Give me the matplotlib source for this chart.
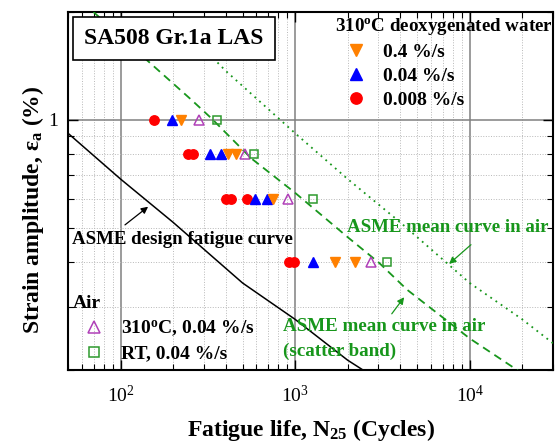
import numpy as np
import matplotlib
matplotlib.use('Agg')
import matplotlib.pyplot as plt
from matplotlib.ticker import LogLocator, NullFormatter
from matplotlib.patches import Rectangle

# ---------------- data ----------------
# ASME design fatigue curve (strain amplitude %)
design_N = [50, 100, 200, 500, 1000, 2000, 5000]
design_eps = [0.917, 0.683, 0.517, 0.350, 0.277, 0.213, 0.160]

# ASME mean curve in air (dotted)
mean_N = [200, 400, 1000, 2000, 4000, 10000, 20000, 40000]
mean_eps = [1.93, 1.37, 0.917, 0.683, 0.517, 0.350, 0.277, 0.213]

# ASME mean curve in air, scatter band (dashed)
band_N = [70, 141, 255, 331, 561, 1000, 2000, 3034, 4385, 10000, 18700, 30000]
band_eps = [2.0, 1.47, 1.136, 1.01, 0.78, 0.625, 0.47, 0.398, 0.335, 0.245, 0.200, 0.165]

# 310C deoxygenated water
w04_N = [223, 412, 456, 745, 1698, 2211]
w04_eps = [1.0, 0.8, 0.8, 0.6, 0.4, 0.4]
w004_N = [197, 324, 377, 591, 688, 1262]
w004_eps = [1.0, 0.8, 0.8, 0.6, 0.6, 0.4]
w0008_N = [156, 243, 260, 400, 431, 529, 918, 991]
w0008_eps = [1.0, 0.8, 0.8, 0.6, 0.6, 0.6, 0.4, 0.4]

# Air
air310_N = [281, 513, 907, 2717]
air310_eps = [1.0, 0.8, 0.6, 0.4]
airRT_N = [357, 585, 1273, 3357]
airRT_eps = [1.0, 0.8, 0.6, 0.4]

x_ticks = [1e2, 1e3, 1e4]
x_tick_labels = ['$10^{2}$', '$10^{3}$', '$10^{4}$']
y_ticks = [1]
y_tick_labels = ['1']

# ---------------- style ----------------
plt.rcParams.update({
    'font.family': ['Liberation Serif', 'DejaVu Serif'],
    'mathtext.fontset': 'custom',
    'mathtext.rm': 'Liberation Serif',
    'mathtext.bf': 'Liberation Serif:bold',
    'mathtext.it': 'Liberation Serif:italic',
})

GREEN = '#17961b'
ORANGE = '#ff8000'
BLUE = '#0000ff'
RED = '#ff0000'
PURPLE = '#b040b8'
SQGREEN = '#2e9a2e'

fig = plt.figure(figsize=(5.57, 4.43), dpi=100)
ax = fig.add_axes([68/557, 1-370/443, 485/557, 358/443])
ax.set_xscale('log')
ax.set_yscale('log')
ax.set_xlim(50, 30000)
ax.set_ylim(0.2, 2)

ax.set_axisbelow(True)
ax.grid(True, which='major', color='#808080', lw=1.1, ls='-')
ax.grid(True, which='minor', color='#b8b8b8', lw=0.7, ls=':')

# curves
ax.plot(design_N, design_eps, color='black', lw=1.1, zorder=3)
ax.plot(mean_N, mean_eps, color=GREEN, lw=1.3, ls=(0, (1, 2.5)), zorder=3)
ax.plot(band_N, band_eps, color=GREEN, lw=1.3, ls=(0, (4.5, 3)), zorder=3)

# data points
h_red, = ax.plot(w0008_N, w0008_eps, 'o', color=RED, ms=6.8, mec=RED, ls='none', zorder=4)
h_blue, = ax.plot(w004_N, w004_eps, '^', color=BLUE, ms=7.2, mec=BLUE, ls='none', zorder=4)
h_orange, = ax.plot(w04_N, w04_eps, 'v', color=ORANGE, ms=7.2, mec=ORANGE, ls='none', zorder=4)
h_p, = ax.plot(air310_N, air310_eps, '^', mfc='none', mec=PURPLE, mew=1.1, ms=7.5, ls='none', zorder=4)
h_s, = ax.plot(airRT_N, airRT_eps, 's', mfc='none', mec=SQGREEN, mew=1.1, ms=6, ls='none', zorder=4)

# ticks
ax.set_xticks(x_ticks)
ax.set_xticklabels(x_tick_labels)
ax.xaxis.set_minor_locator(LogLocator(base=10, subs=np.arange(2, 10)))
ax.xaxis.set_minor_formatter(NullFormatter())
ax.set_yticks(y_ticks)
ax.set_yticklabels(y_tick_labels)
ax.yaxis.set_minor_locator(LogLocator(base=10, subs=np.arange(2, 10)))
ax.yaxis.set_minor_formatter(NullFormatter())
ax.tick_params(which='both', direction='in', top=True, right=True, labelsize=14)
ax.tick_params(which='major', length=7, width=1.0)
ax.tick_params(axis='x', which='major', pad=11)
ax.tick_params(axis='y', which='major', pad=7)
ax.tick_params(which='minor', length=4, width=0.8)
for s in ax.spines.values():
    s.set_linewidth(1.5)

ax.set_xlabel('Fatigue life, N$_{\\mathbf{25}}$ (Cycles)', fontsize=17, fontweight='bold')
ax.xaxis.set_label_coords(0.5, -0.13)
ax.set_ylabel('Strain amplitude, ε$_{\\mathbf{a}}$ (%)', fontsize=17, fontweight='bold')
ax.yaxis.set_label_coords(-0.045, 0.447)

# title box
ax.add_patch(Rectangle((5/485, (370-60)/358), 202/485, 43/358, transform=ax.transAxes,
                       fc='white', ec='black', lw=1.2, zorder=6, clip_on=False))
ax.text((174-68)/485, (370-38.5)/358, 'SA508 Gr.1a LAS', transform=ax.transAxes,
        ha='center', va='center', fontsize=17, fontweight='bold', zorder=7)

# annotations
ax.annotate('', xy=(148, 0.578), xytext=(103, 0.503),
            arrowprops=dict(arrowstyle='-|>', color='black', lw=0.9, mutation_scale=10), zorder=5)
ax.text(52.5, 0.4615, 'ASME design fatigue curve', fontsize=13.6, fontweight='bold',
        ha='left', va='center', zorder=5)

ax.text(1990, 0.499, 'ASME mean curve in air', color=GREEN, fontsize=13.6, fontweight='bold',
        ha='left', va='center', zorder=5)
ax.annotate('', xy=(7413, 0.391), xytext=(10450, 0.453),
            arrowprops=dict(arrowstyle='-|>', color=GREEN, lw=0.9, mutation_scale=10), zorder=5)

ax.text(857, 0.2643, 'ASME mean curve in air', color=GREEN, fontsize=13.7, fontweight='bold',
        ha='left', va='center', zorder=5)
ax.text(857, 0.225, '(scatter band)', color=GREEN, fontsize=13.7, fontweight='bold',
        ha='left', va='center', zorder=5)
ax.annotate('', xy=(4305, 0.324), xytext=(3500, 0.283),
            arrowprops=dict(arrowstyle='-|>', color=GREEN, lw=0.9, mutation_scale=10), zorder=5)

# legends
bold = {'weight': 'bold', 'size': 14}
tbold = {'weight': 'bold', 'size': 13.7}
leg1 = ax.legend([h_orange, h_blue, h_red], ['0.4 %/s', '0.04 %/s', '0.008 %/s'],
                 title='310$^{\\mathbf{o}}$C deoxygenated water', title_fontproperties=tbold,
                 prop=bold, loc='upper left', bbox_to_anchor=((335-68)/485, (370-16)/358),
                 frameon=False, borderpad=0, borderaxespad=0, handlelength=2.15,
                 handletextpad=0.33, labelspacing=0.33, markerscale=1.2, alignment='left',
                 numpoints=1)
ax.add_artist(leg1)
leg2 = ax.legend([h_p, h_s], ['310$^{\\mathbf{o}}$C, 0.04 %/s', 'RT, 0.04 %/s'],
                 title='Air', title_fontproperties=bold,
                 prop=bold, loc='upper left', bbox_to_anchor=((72.7-68)/485, (370-295)/358),
                 frameon=False, borderpad=0, borderaxespad=0, handlelength=2.15,
                 handletextpad=0.33, labelspacing=0.33, markerscale=1.1, alignment='left',
                 numpoints=1)

fig.savefig('out.png', dpi=100)
